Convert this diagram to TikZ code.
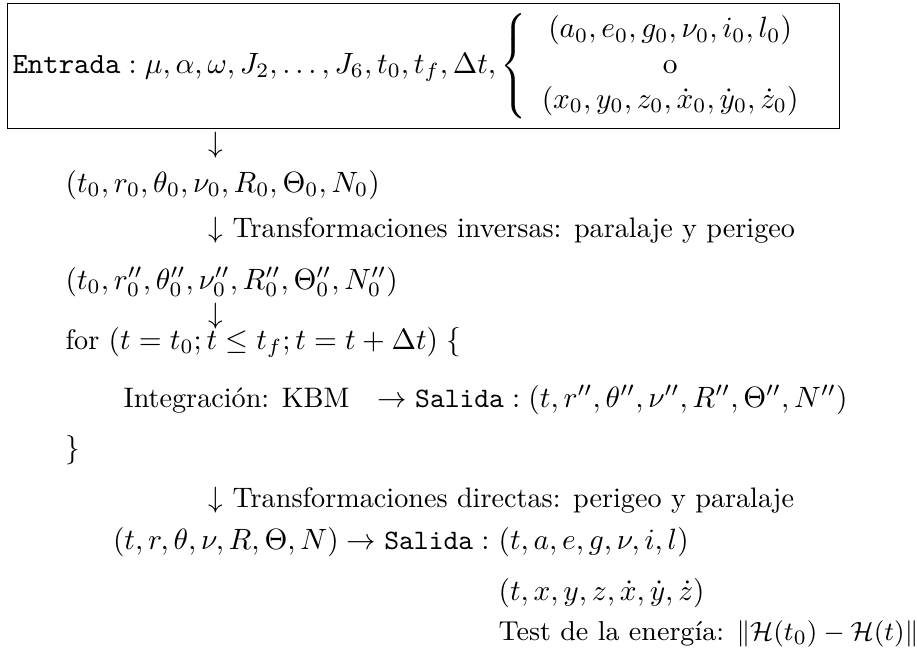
\documentclass[tikz,border=0pt]{standalone}
\usepackage{amsmath, amssymb}
\usepackage{tikz}
\usetikzlibrary{positioning}

\begin{document}
\begin{tikzpicture}[
    x=0.3406pt, y=-0.3406pt,
    inbox/.style={rectangle, draw, anchor=north west, inner xsep=1.7pt, inner ysep=0pt, text width=280pt, minimum height=42.6pt, align=left},
    row/.style={anchor=base west, inner sep=0pt, font=\fontsize{9.6}{11.5}\selectfont},
    flecha/.style={row}
]
\useasboundingbox (0,0) rectangle (917,651);

% Datos de entrada
\node[inbox] (entrada) at (7,3) {$\texttt{Entrada}:\mu,\alpha,\omega,J_2,\ldots,J_6,t_0,t_f,\Delta t,\left\{\begin{array}{c}(a_0,e_0,g_0,\nu_0,i_0,l_0)\\ \mathrm{o}\\ (x_0,y_0,z_0,\dot{x}_0,\dot{y}_0,\dot{z}_0)\end{array}\right.$};

% Condiciones iniciales
\node[flecha] (f1) at (208,152) {$\downarrow$};
\node[row] (ini) at (65,192) {$(t_0,r_0,\theta_0,\nu_0,R_0,\Theta_0,N_0)$};
\node[flecha] (inv) at (208,237) {$\downarrow$ Transformaciones inversas: paralaje y perigeo};
\node[row] (ini2) at (65,289) {$(t_0,r''_0,\theta''_0,\nu''_0,R''_0,\Theta''_0,N''_0)$};
\node[flecha] (f2) at (208,323) {$\downarrow$};

% Bucle de integracion
\node[row] (for) at (65,349) {for $(t=t_0;t\leq t_f;t=t+\Delta t)\;\{$};
\node[row] (kbm) at (123,407) {Integraci\'on: KBM\quad$\rightarrow\texttt{Salida}:(t,r'',\theta'',\nu'',R'',\Theta'',N'')$};
\node[row] (fin) at (65,457) {$\}$};

% Salida final
\node[flecha] (dir) at (208,507) {$\downarrow$ Transformaciones directas: perigeo y paralaje};
\node[row] (kep) at (498,549) {$(t,a,e,g,\nu,i,l)$};
\node[row] (cart) at (498,600) {$(t,x,y,z,\dot{x},\dot{y},\dot{z})$};
\node[row, font=\fontsize{9.3}{11}\selectfont] (test) at (498,640) {Test de la energ\'ia: $\|\mathcal{H}(t_0)-\mathcal{H}(t)\|$};
\node[row, anchor=base east] (sal) at ([xshift=-2.7pt]kep.base west) {$(t,r,\theta,\nu,R,\Theta,N)\rightarrow\texttt{Salida}:$};

\end{tikzpicture}
\end{document}
